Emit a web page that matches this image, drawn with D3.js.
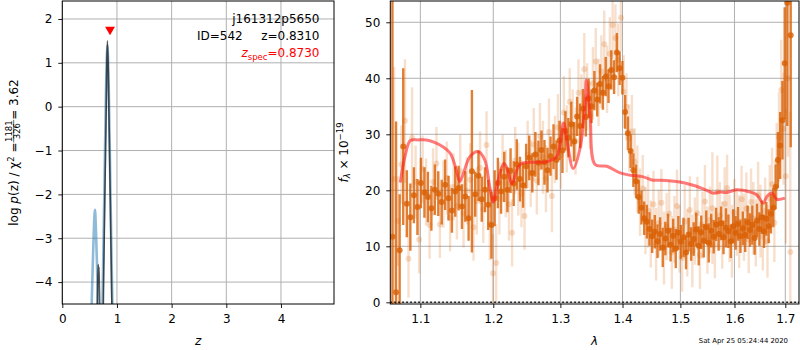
<!DOCTYPE html>
<html>
<head>
<meta charset="utf-8">
<script src="https://cdn.jsdelivr.net/npm/d3@7"></script>
<style>
  body { margin: 0; background: #fff; }
  svg { display: block; font-family: "DejaVu Sans", sans-serif; }
</style>
</head>
<body>
<svg id="fig" width="800" height="350"></svg>
<script>
// ---------- redshift probability panel ----------
const zTicks = [0, 1, 2, 3, 4];
const pTicks = [-4, -3, -2, -1, 0, 1, 2];

// coarse-grid log p(z)
const zBlue  = [0.50, 0.53, 0.56, 0.58, 0.598, 0.615, 0.635, 0.66, 0.69, 0.72, 0.75, 0.77, 0.80, 0.825, 0.85, 0.88, 0.90, 0.93, 0.97];
const lpBlue = [-8.0, -5.0, -3.5, -2.7, -2.35, -2.8, -3.6, -5.0, -6.5, -5.5, -3.4, -1.9, 0.4, 1.4, 0.4, -1.9, -3.4, -5.5, -8.0];

// fine-grid log p(z)
const zDark  = [0.60, 0.635, 0.648, 0.658, 0.665, 0.671, 0.680, 0.70, 0.74, 0.76, 0.78, 0.80, 0.813, 0.825, 0.84, 0.855, 0.875, 0.895, 0.915, 0.95];
const lpDark = [-7.0, -4.8, -4.0, -3.6, -3.95, -3.66, -4.2, -5.2, -5.2, -3.6, -1.9, -0.3, 0.9, 1.5, 0.9, -0.3, -1.9, -3.6, -5.2, -8.0];

const zSpec = 0.8730;
const zSpecMarkY = 1.76;
const objName = "j161312p5650";
const objId = 542;
const zBest = 0.8310;
const chi2Num = 1181, chi2Den = 326, chi2Red = 3.62;

// ---------- spectrum panel ----------
const lamTicks = [1.1, 1.2, 1.3, 1.4, 1.5, 1.6, 1.7];
const fluxTicks = [0, 10, 20, 30, 40, 50];

// binned spectrum (dark points)
const lamA = [
  1.0640, 1.0686, 1.0732, 1.0778, 1.0824, 1.0870, 1.0916, 1.0962, 1.1008, 1.1054,
  1.1100, 1.1146, 1.1192, 1.1238, 1.1284, 1.1330, 1.1376, 1.1422, 1.1468, 1.1514,
  1.1560, 1.1606, 1.1652, 1.1698, 1.1744, 1.1790, 1.1836, 1.1882, 1.1928, 1.1974,
  1.2020, 1.2066, 1.2112, 1.2158, 1.2204, 1.2250, 1.2296, 1.2342, 1.2388, 1.2434,
  1.2480, 1.2526, 1.2572, 1.2618, 1.2664, 1.2710, 1.2756, 1.2802, 1.2848, 1.2894,
  1.2940, 1.2986, 1.3032, 1.3078, 1.3124, 1.3170, 1.3216, 1.3262, 1.3308, 1.3354,
  1.3400, 1.3446, 1.3492, 1.3538, 1.3584, 1.3630, 1.3676, 1.3722, 1.3768, 1.3814,
  1.3860, 1.3906, 1.3952, 1.3998, 1.4044, 1.4090, 1.4136, 1.4182, 1.4228, 1.4274,
  1.4320, 1.4366, 1.4412, 1.4458, 1.4504, 1.4550, 1.4596, 1.4642, 1.4688, 1.4734,
  1.4780, 1.4826, 1.4872, 1.4918, 1.4964, 1.5010, 1.5056, 1.5102, 1.5148, 1.5194,
  1.5240, 1.5286, 1.5332, 1.5378, 1.5424, 1.5470, 1.5516, 1.5562, 1.5608, 1.5654,
  1.5700, 1.5746, 1.5792, 1.5838, 1.5884, 1.5930, 1.5976, 1.6022, 1.6068, 1.6114,
  1.6160, 1.6206, 1.6252, 1.6298, 1.6344, 1.6390, 1.6436, 1.6482, 1.6528, 1.6574,
  1.6620, 1.6666, 1.6712, 1.6758, 1.6804, 1.6850, 1.6896, 1.6942, 1.6988, 1.7040, 1.7110
];
const fluxA = [
  11.7, 1.8, 9.3, 27.8, 17.6, 15.2, 19.1, 17.0, 21.3, 19.6,
  18.8, 16.8, 20.1, 19.4, 17.9, 21.0, 18.6, 16.4, 19.8, 20.4,
  17.1, 18.9, 15.0, 23.4, 19.3, 22.6, 18.4, 20.1, 17.4, 13.8,
  18.6, 21.3, 19.8, 22.4, 20.1, 23.5, 21.2, 24.6, 22.0, 20.9,
  24.3, 25.8, 23.1, 26.4, 24.9, 27.2, 25.0, 23.6, 26.1, 27.8,
  25.4, 28.9, 27.1, 30.6, 29.4, 31.8, 28.7, 33.2, 31.5, 34.6,
  33.1, 36.4, 35.0, 37.8, 36.2, 39.0, 37.4, 40.3, 38.6, 41.5,
  40.2, 44.6, 41.8, 40.1, 34.0, 30.2, 27.0, 23.6, 21.6, 18.8,
  16.9, 15.0, 14.4, 13.1, 11.8, 12.6, 10.9, 12.2, 9.8, 11.4,
  12.8, 10.3, 11.9, 9.6, 12.4, 10.8, 11.6, 8.9, 12.1, 10.4,
  11.3, 13.0, 10.1, 12.5, 11.0, 13.4, 10.6, 12.8, 11.7, 13.9,
  12.2, 14.1, 11.6, 13.3, 12.7, 10.9, 13.6, 12.4, 14.0, 11.8,
  13.2, 12.0, 14.3, 12.9, 13.8, 11.5, 14.6, 13.1, 15.2, 12.7,
  14.9, 13.6, 15.8, 16.9, 20.6, 25.4, 28.0, 32.5, 42.7, 53.5, 47.7
];
const errA = [
  45, 30.5, 10, 14, 6, 6, 5, 5, 4.5, 4.5,
  4.5, 4, 4.5, 4, 4, 4.5, 4, 4, 4.5, 4,
  4, 4.5, 4, 14.5, 4, 4.5, 4, 4, 4.5, 6,
  5, 4.5, 4, 4.5, 4, 4, 4, 4.5, 4, 4,
  4, 4, 3.5, 4, 4, 3.5, 4, 4, 3.5, 4,
  3.5, 3.5, 4, 3.5, 3.5, 4, 3.5, 3.5, 4, 3.5,
  3.5, 3.5, 3, 3.5, 3, 3.5, 3, 3.5, 3, 3.5,
  3, 3.5, 3, 3, 3, 3, 3, 3, 3, 3,
  3, 3, 3, 3, 3, 3, 3, 3, 3.5, 3,
  3, 3, 3, 3.5, 3, 3, 3.5, 3, 3, 3,
  3, 3, 3.5, 3, 3, 3, 3.5, 3, 3, 3,
  3, 3, 3, 3.5, 3, 3, 3, 3, 3, 3,
  3, 3, 3, 3, 3.5, 3, 3, 3, 3, 3,
  3, 3, 3.5, 3.5, 4, 5, 6, 7, 10, 22, 20
];

// individual-beam spectrum (light points)
const lamB = [
  1.0662, 1.0708, 1.0754, 1.0800, 1.0846, 1.0892, 1.0938, 1.0984, 1.1030, 1.1076,
  1.1122, 1.1168, 1.1214, 1.1260, 1.1306, 1.1352, 1.1398, 1.1444, 1.1490, 1.1536,
  1.1582, 1.1628, 1.1674, 1.1720, 1.1766, 1.1812, 1.1858, 1.1904, 1.1950, 1.1996,
  1.2042, 1.2088, 1.2134, 1.2180, 1.2226, 1.2272, 1.2318, 1.2364, 1.2410, 1.2456,
  1.2502, 1.2548, 1.2594, 1.2640, 1.2686, 1.2732, 1.2778, 1.2824, 1.2870, 1.2916,
  1.2962, 1.3008, 1.3054, 1.3100, 1.3146, 1.3192, 1.3238, 1.3284, 1.3330, 1.3376,
  1.3422, 1.3468, 1.3514, 1.3560, 1.3606, 1.3652, 1.3698, 1.3744, 1.3790, 1.3836,
  1.3882, 1.3928, 1.3974, 1.4020, 1.4066, 1.4112, 1.4158, 1.4204, 1.4250, 1.4296,
  1.4342, 1.4388, 1.4434, 1.4480, 1.4526, 1.4572, 1.4618, 1.4664, 1.4710, 1.4756,
  1.4802, 1.4848, 1.4894, 1.4940, 1.4986, 1.5032, 1.5078, 1.5124, 1.5170, 1.5216,
  1.5262, 1.5308, 1.5354, 1.5400, 1.5446, 1.5492, 1.5538, 1.5584, 1.5630, 1.5676,
  1.5722, 1.5768, 1.5814, 1.5860, 1.5906, 1.5952, 1.5998, 1.6044, 1.6090, 1.6136,
  1.6182, 1.6228, 1.6274, 1.6320, 1.6366, 1.6412, 1.6458, 1.6504, 1.6550, 1.6596,
  1.6642, 1.6688, 1.6734, 1.6780, 1.6826, 1.6872, 1.6918, 1.6964, 1.7010, 1.7056, 1.7102
];
const fluxB = [
  22.0, 14.5, 24.6, 32.4, 7.8, 29.4, 21.5, 11.2, 23.8, 19.7,
  13.8, 21.5, 24.8, 13.9, 19.3, 22.2, 15.1, 20.6, 17.2, 23.4,
  15.8, 19.9, 21.9, 13.4, 18.1, 24.0, 16.6, 28.1, 14.0, 5.2,
  7.0, 18.6, 23.9, 21.2, 17.5, 12.4, 25.3, 22.0, 19.4, 15.4,
  26.4, 23.0, 28.2, 21.7, 29.6, 25.9, 22.1, 30.4, 19.0, 27.3,
  31.2, 26.3, 33.9, 29.2, 35.8, 31.5, 28.8, 37.4, 34.2, 41.6,
  36.7, 33.4, 39.1, 43.0, 37.5, 41.2, 46.1, 39.8, 44.4, 49.5,
  47.2, 43.3, 50.8, 37.6, 34.9, 29.3, 30.5, 25.1, 22.0, 17.9,
  20.3, 14.6, 16.3, 12.2, 17.5, 10.4, 14.1, 17.8, 9.7, 13.5,
  15.8, 8.9, 13.0, 17.2, 11.3, 7.9, 14.4, 10.6, 16.5, 9.2,
  12.7, 15.9, 8.4, 13.8, 18.0, 11.1, 14.7, 16.8, 10.3, 19.7,
  15.5, 12.0, 17.6, 20.4, 13.2, 10.9, 16.0, 14.3, 12.6, 18.4,
  13.4, 16.7, 11.2, 17.9, 15.0, 12.4, 19.1, 14.5, 11.7, 16.3,
  10.9, 18.5, 21.1, 14.2, 25.0, 29.5, 37.9, 31.0, 22.5, 40.0, 9.0
];
const errB = [
  20, 8, 7, 11, 7, 9, 6.5, 6, 6, 6,
  6, 6, 6.5, 6, 6, 6.5, 6, 6, 6, 6.5,
  6, 6, 6.5, 6, 6, 6.5, 6, 6, 6.5, 7,
  7, 6.5, 6, 6, 6.5, 6, 6, 6.5, 6, 6,
  6, 6, 6.5, 6, 6, 6.5, 6, 6, 6.5, 6,
  6, 6, 6.5, 6, 6, 6.5, 6, 6, 6.5, 6.5,
  6, 6, 6.5, 6, 6, 6.5, 6, 6, 6.5, 6,
  6, 6.5, 6, 6.5, 6, 6, 6.5, 6, 6, 6,
  6, 6, 6.5, 6, 6, 6.5, 6, 6, 6.5, 6,
  6, 6.5, 6, 6.5, 6, 6, 6.5, 6, 6, 6.5,
  6, 6.5, 6, 6, 6.5, 6, 6, 10, 6, 6.5,
  6, 6, 6.5, 6, 6, 6.5, 6, 6, 6.5, 6,
  6, 6.5, 6, 6, 6.5, 6, 6, 6.5, 6, 6,
  6.5, 6, 6.5, 7, 7, 8, 9, 10, 12, 14, 25
];

// best-fit template
const lamModel = [1.074, 1.080, 1.087, 1.097, 1.108, 1.118, 1.131, 1.140, 1.147, 1.153,
  1.158, 1.167, 1.179, 1.188, 1.195, 1.200, 1.207, 1.215, 1.219, 1.227,
  1.234, 1.241, 1.254, 1.279, 1.294, 1.305, 1.310, 1.320, 1.331, 1.339,
  1.341, 1.347, 1.355, 1.374, 1.396, 1.413, 1.435, 1.452, 1.464, 1.499,
  1.523, 1.548, 1.560, 1.573, 1.585, 1.604, 1.630, 1.643, 1.656, 1.663,
  1.673, 1.683, 1.699];
const fluxModel = [21.4, 26.0, 28.9, 29.0, 29.0, 28.6, 27.7, 26.6, 24.2, 21.6,
  23.0, 26.0, 26.9, 25.4, 20.6, 17.9, 21.8, 24.8, 24.2, 21.2,
  23.6, 24.8, 25.0, 25.1, 26.0, 32.0, 29.0, 23.9, 27.6, 36.0,
  39.7, 33.0, 24.6, 24.3, 23.1, 22.7, 22.4, 21.8, 21.8, 21.5,
  20.9, 20.0, 19.5, 19.7, 19.6, 20.1, 19.7, 19.2, 17.7, 18.9,
  19.5, 18.4, 18.6];

const timeStamp = "Sat Apr 25 05:24:44 2020";

// ---------- drawing ----------
const svg = d3.select("#fig");
const FS = 12;
const GRID = "#b0b0b0";
const ORANGE = "#d95f02";

const L = { x0: 62.3, x1: 334, y0: 1, y1: 304 };
const R = { x0: 390.3, x1: 799, y0: 1, y1: 304 };

const xz = d3.scaleLinear().domain([0, 4.97]).range([L.x0, L.x1]);
const yp = d3.scaleLinear().domain([-4.5, 2.41]).range([L.y1, L.y0]);
const xl = d3.scaleLog().domain([1.0613, 1.728]).range([R.x0, R.x1]);
const yf = d3.scaleLinear().domain([-0.3, 53.8]).range([R.y1, R.y0]);

const defs = svg.append("defs");
defs.append("clipPath").attr("id", "clipL").append("rect")
  .attr("x", L.x0).attr("y", L.y0).attr("width", L.x1 - L.x0).attr("height", L.y1 - L.y0);
defs.append("clipPath").attr("id", "clipR").append("rect")
  .attr("x", R.x0).attr("y", R.y0).attr("width", R.x1 - R.x0).attr("height", R.y1 - R.y0);

function grid(P, xs, xv, ys, yv) {
  const g = svg.append("g").attr("stroke", GRID).attr("stroke-width", 1);
  g.selectAll(".gx").data(xv).join("line")
    .attr("x1", d => xs(d)).attr("x2", d => xs(d)).attr("y1", P.y0).attr("y2", P.y1);
  g.selectAll(".gy").data(yv).join("line")
    .attr("x1", P.x0).attr("x2", P.x1).attr("y1", d => ys(d)).attr("y2", d => ys(d));
}

function axes(P, xs, xv, xfmt, ys, yv, yfmt) {
  const ax = svg.append("g").attr("transform", `translate(0,${P.y1})`)
    .call(d3.axisBottom(xs).tickValues(xv).tickFormat(xfmt).tickSizeInner(4).tickSizeOuter(0).tickPadding(6.5));
  const ay = svg.append("g").attr("transform", `translate(${P.x0},0)`)
    .call(d3.axisLeft(ys).tickValues(yv).tickFormat(yfmt).tickSizeInner(4).tickSizeOuter(0).tickPadding(6));
  [ax, ay].forEach(a => {
    a.select(".domain").remove();
    a.selectAll("text").attr("font-size", FS).attr("font-family", "DejaVu Sans").attr("fill", "#000");
    a.selectAll("line").attr("stroke", "#000").attr("stroke-width", 0.9);
  });
  svg.append("rect").attr("x", P.x0).attr("y", P.y0)
    .attr("width", P.x1 - P.x0).attr("height", P.y1 - P.y0)
    .attr("fill", "none").attr("stroke", "#000").attr("stroke-width", 1);
}

const minusFmt = d => d < 0 ? "\u2212" + Math.abs(d) : String(d);

// left panel
grid(L, xz, zTicks, yp, pTicks);
const gL = svg.append("g").attr("clip-path", "url(#clipL)");
const lineZ = d3.line().x(d => xz(d[0])).y(d => yp(d[1])).curve(d3.curveMonotoneX);
gL.append("path").datum(zBlue.map((z, i) => [z, lpBlue[i]]))
  .attr("d", lineZ).attr("fill", "none").attr("stroke", "#1f77b4")
  .attr("stroke-opacity", 0.5).attr("stroke-width", 2.6);
gL.append("path").datum(zDark.map((z, i) => [z, lpDark[i]]))
  .attr("d", lineZ).attr("fill", "none").attr("stroke", "#111")
  .attr("stroke-opacity", 0.7).attr("stroke-width", 1.6);
gL.append("path")
  .attr("d", d3.symbol().type(d3.symbolTriangle).size(42)())
  .attr("transform", `translate(${xz(zSpec)},${yp(zSpecMarkY)}) rotate(180)`)
  .attr("fill", "red");
axes(L, xz, zTicks, d => String(d), yp, pTicks, minusFmt);

// left annotations
svg.append("text").attr("x", 319.5).attr("y", 23).attr("text-anchor", "end")
  .attr("font-size", FS).text(objName);
svg.append("text").attr("x", 242.7).attr("y", 40).attr("text-anchor", "end")
  .attr("font-size", FS).text(`ID=${objId}`);
svg.append("text").attr("x", 319.5).attr("y", 40).attr("text-anchor", "end")
  .attr("font-size", FS).text(`z=${zBest.toFixed(4)}`);
const tz = svg.append("text").attr("x", 319.5).attr("y", 57).attr("text-anchor", "end")
  .attr("font-size", FS).attr("fill", "red");
tz.append("tspan").attr("font-style", "italic").text("z");
tz.append("tspan").attr("font-size", 8.5).attr("dy", 3).text("spec");
tz.append("tspan").attr("dy", -3).text(`=${zSpec.toFixed(4)}`);

// right panel
grid(R, xl, lamTicks, yf, fluxTicks);
const gR = svg.append("g").attr("clip-path", "url(#clipR)");

function errSeries(lam, flux, err, op) {
  const g = gR.append("g");
  g.selectAll("line").data(lam.map((l, i) => [l, flux[i], err[i]])).join("line")
    .attr("x1", d => xl(d[0])).attr("x2", d => xl(d[0]))
    .attr("y1", d => yf(d[1] - d[2])).attr("y2", d => yf(d[1] + d[2]))
    .attr("stroke", ORANGE).attr("stroke-opacity", op).attr("stroke-width", 2.4);
  g.selectAll("circle").data(lam.map((l, i) => [l, flux[i]])).join("circle")
    .attr("cx", d => xl(d[0])).attr("cy", d => yf(d[1])).attr("r", 3)
    .attr("fill", ORANGE).attr("fill-opacity", op);
}
errSeries(lamB, fluxB, errB, 0.2);
errSeries(lamA, fluxA, errA, 0.8);

gR.append("path").datum(lamModel.map((l, i) => [l, fluxModel[i]]))
  .attr("d", d3.line().x(d => xl(d[0])).y(d => yf(d[1])).curve(d3.curveCatmullRom.alpha(0.5)))
  .attr("fill", "none").attr("stroke", "#ff1a1a").attr("stroke-opacity", 0.58)
  .attr("stroke-width", 3).attr("stroke-linejoin", "round");

gR.append("line").attr("x1", R.x0).attr("x2", R.x1).attr("y1", yf(0)).attr("y2", yf(0))
  .attr("stroke", "#000").attr("stroke-width", 1.5).attr("stroke-dasharray", "1.5,2.5");

axes(R, xl, lamTicks, d3.format(".1f"), yf, fluxTicks, d => String(d));

// axis titles
svg.append("text").attr("x", (L.x0 + L.x1) / 2).attr("y", 345).attr("text-anchor", "middle")
  .attr("font-size", FS).attr("font-style", "italic").text("z");
svg.append("text").attr("x", (R.x0 + R.x1) / 2).attr("y", 345).attr("text-anchor", "middle")
  .attr("font-size", FS).attr("font-style", "italic").text("λ");

// left y title with a stacked fraction
const gy = svg.append("g").attr("transform", `translate(18.3,${(L.y0 + L.y1) / 2}) rotate(-90)`);
const inner = gy.append("g");
const t1 = inner.append("text").attr("font-size", FS);
t1.append("tspan").text("log ");
t1.append("tspan").attr("font-style", "italic").text("p");
t1.append("tspan").text("(z) / χ");
t1.append("tspan").attr("font-size", 8.5).attr("dy", -4.5).text("2");
t1.append("tspan").attr("dy", 4.5).text(" = ");
const w1 = t1.node().getComputedTextLength();
const num = inner.append("text").attr("font-size", 8.5).attr("text-anchor", "middle").text(chi2Num);
const den = inner.append("text").attr("font-size", 8.5).attr("text-anchor", "middle").text(chi2Den);
const wf = Math.max(num.node().getComputedTextLength(), den.node().getComputedTextLength()) + 1;
num.attr("x", w1 + wf / 2).attr("y", -6.2);
den.attr("x", w1 + wf / 2).attr("y", 1.8);
inner.append("line").attr("x1", w1).attr("x2", w1 + wf).attr("y1", -4.6).attr("y2", -4.6)
  .attr("stroke", "#000").attr("stroke-width", 0.6);
const t3 = inner.append("text").attr("font-size", FS).attr("x", w1 + wf).text(` = ${chi2Red.toFixed(2)}`);
const wTot = w1 + wf + t3.node().getComputedTextLength();
inner.attr("transform", `translate(${-wTot / 2},0)`);

// right y title
const ty = svg.append("text").attr("transform", `translate(347.5,${(R.y0 + R.y1) / 2}) rotate(-90)`)
  .attr("text-anchor", "middle").attr("font-size", FS);
ty.append("tspan").attr("font-style", "italic").text("f");
ty.append("tspan").attr("font-size", 8.5).attr("dy", 2.5).attr("font-style", "italic").text("λ");
ty.append("tspan").attr("dy", -2.5).text(" × 10");
ty.append("tspan").attr("font-size", 8.5).attr("dy", -5).text("\u221219");

// timestamp
svg.append("text").attr("x", 788).attr("y", 343).attr("text-anchor", "end")
  .attr("font-size", 6.9).text(timeStamp);
</script>
</body>
</html>
